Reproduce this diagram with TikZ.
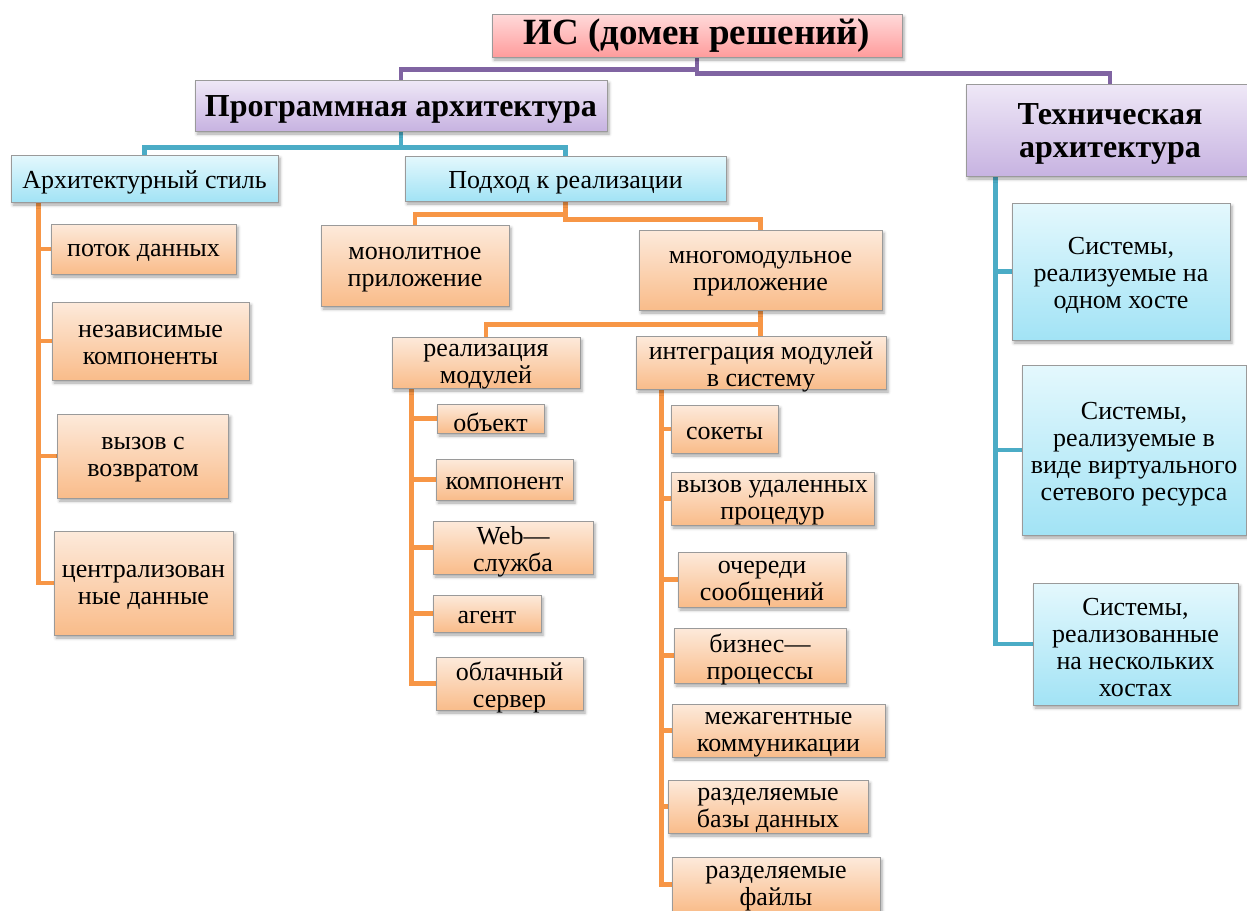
\documentclass[tikz,border=0pt]{standalone}
\usepackage{fontspec}
\setmainfont{Liberation Serif}
\usetikzlibrary{shadows.blur,backgrounds}

\definecolor{linkpurple}{HTML}{8064A2}
\definecolor{linkcyan}{HTML}{4BACC6}
\definecolor{linkorange}{HTML}{F79646}
\definecolor{boxedge}{HTML}{9A9A9A}
\definecolor{orangetop}{HTML}{FDEADB}
\definecolor{orangebot}{HTML}{F9BC8A}
\definecolor{cyantop}{HTML}{E4F8FD}
\definecolor{cyanbot}{HTML}{A2E3F5}
\definecolor{lilactop}{HTML}{EFE8F7}
\definecolor{lilacbot}{HTML}{C7B3E1}
\definecolor{pinktop}{HTML}{FFDADA}
\definecolor{pinkbot}{HTML}{FF9C9C}

\tikzset{
  box/.style={draw=boxedge, line width=0.8pt, inner sep=0pt,
    blur shadow={shadow xshift=2pt, shadow yshift=-3pt, shadow blur radius=3pt, shadow opacity=35}},
  sz/.style 2 args={minimum width=#1pt, minimum height=#2pt},
  obox/.style={box, top color=orangetop, bottom color=orangebot},
  cbox/.style={box, top color=cyantop, bottom color=cyanbot},
  lbox/.style={box, top color=lilactop, bottom color=lilacbot},
  rbox/.style={box, top color=pinktop, bottom color=pinkbot, inner sep=1pt,
    font=\fontsize{37}{38}\selectfont\bfseries},
  % box labels, set a little below the geometric centre
  boxtext/.style={align=center, inner sep=0pt, draw=none, fill=none, yshift=-4pt},
  txt/.style={label={[boxtext, font=\fontsize{26}{27}\selectfont]center:{#1}}},
  ttxt/.style={label={[boxtext, font=\fontsize{32}{33}\selectfont\bfseries]center:{#1}}},
  plink/.style={draw=linkpurple, line width=4.5pt},
  clink/.style={draw=linkcyan, line width=4.5pt},
  olink/.style={draw=linkorange, line width=4.5pt},
}

\begin{document}
\begin{tikzpicture}[x=1pt, y=-1pt]
\useasboundingbox (0,0) rectangle (1247,910);

% top levels
\node[rbox, sz={410}{43}] (root) at (697,35.5) {ИС (домен решений)};
\node[lbox, sz={412}{51}, ttxt={Программная архитектура}] (prog) at (401,105.5) {};
\node[lbox, sz={288}{92}, ttxt={Техническая\\архитектура}] (tech) at (1110,130) {};

% software architecture
\node[cbox, sz={267}{47}, txt={Архитектурный стиль}] (arch) at (144.5,178.5) {};
\node[cbox, sz={321}{45}, txt={Подход к реализации}] (podh) at (565.5,178.5) {};

\node[obox, sz={185}{50}, txt={поток данных}] (a1) at (143.5,249) {};
\node[obox, sz={197}{78}, txt={независимые\\компоненты}] (a2) at (150.5,341) {};
\node[obox, sz={171}{84}, txt={вызов с\\возвратом}] (a3) at (143,456) {};
\node[obox, sz={179}{104}, txt={централизован\\ные данные}] (a4) at (143.5,583) {};

\node[obox, sz={188}{81}, txt={монолитное\\приложение}] (mono) at (415,265.5) {};
\node[obox, sz={243}{80}, txt={многомодульное\\приложение}] (multi) at (760.5,270) {};

\node[obox, sz={188}{51}, txt={реализация\\модулей}] (real) at (486,362.5) {};
\node[obox, sz={250}{53}, txt={интеграция модулей\\в систему}] (integ) at (761,362.5) {};

\node[obox, sz={107}{29}, txt={объект}] (r1) at (490.5,418.5) {};
\node[obox, sz={137}{41}, txt={компонент}] (r2) at (504.5,479.5) {};
\node[obox, sz={160}{53}, txt={Web—\\служба}] (r3) at (513,547.5) {};
\node[obox, sz={108}{37}, txt={агент}] (r4) at (487,613.5) {};
\node[obox, sz={147}{53}, txt={облачный\\сервер}] (r5) at (509.5,683.5) {};

\node[obox, sz={107}{48}, txt={сокеты}] (i1) at (724.5,429) {};
\node[obox, sz={203}{53}, txt={вызов удаленных\\процедур}] (i2) at (772.5,498.5) {};
\node[obox, sz={168}{55}, txt={очереди\\сообщений}] (i3) at (762,579.5) {};
\node[obox, sz={172}{55}, txt={бизнес—\\процессы}] (i4) at (760,655.5) {};
\node[obox, sz={213}{53}, txt={межагентные\\коммуникации}] (i5) at (778.5,730.5) {};
\node[obox, sz={200}{53}, txt={разделяемые\\базы данных}] (i6) at (768,806.5) {};
\node[obox, sz={208}{55}, txt={разделяемые\\файлы}] (i7) at (776,884.5) {};

% technical architecture
\node[cbox, sz={218}{137}, txt={Системы,\\реализуемые на\\одном хосте}] (t1) at (1121,271.5) {};
\node[cbox, sz={224}{170}, txt={Системы,\\реализуемые в\\виде виртуального\\сетевого ресурса}] (t2) at (1134,450) {};
\node[cbox, sz={205}{122}, txt={Системы,\\реализованные\\на нескольких\\хостах}] (t3) at (1135.5,644) {};

\begin{pgfonlayer}{background}
  % root branches
  \draw[plink] (root.south) -- ++(0,12) -| (prog.north);
  \draw[plink] (root.south) -- ++(0,16) -| (tech.north);

  % software architecture branches
  \draw[clink] (prog.south) -- ++(0,16) -| (arch.north);
  \draw[clink] (prog.south) -- ++(0,16) -| (podh.north);

  \draw[olink] (podh.south) -- ++(0,13) -| (mono.north);
  \draw[olink] (podh.south) -- ++(0,18) -| (multi.north);

  \draw[olink] (multi.south) -- ++(0,14) -| (real.north);
  \draw[olink] (multi.south) -- (multi.south |- integ.north);

  % trunks with their leaves
  \coordinate (ta) at ([xshift=28pt]arch.south west);
  \draw[olink] (ta) |- (a4.west);
  \foreach \c in {a1,a2,a3} \draw[olink] (\c.west) -- (\c.west -| ta);

  \coordinate (tr) at ([xshift=20pt]real.south west);
  \draw[olink] (tr) |- (r5.west);
  \foreach \c in {r1,r2,r3,r4} \draw[olink] (\c.west) -- (\c.west -| tr);

  \coordinate (ti) at ([xshift=26pt]integ.south west);
  \draw[olink] (ti) |- (i7.west);
  \foreach \c in {i1,i2,i3,i4,i5,i6} \draw[olink] (\c.west) -- (\c.west -| ti);

  \coordinate (tt) at ([xshift=30pt]tech.south west);
  \draw[clink] (tt) |- (t3.west);
  \foreach \c in {t1,t2} \draw[clink] (\c.west) -- (\c.west -| tt);
\end{pgfonlayer}
\end{tikzpicture}
\end{document}
